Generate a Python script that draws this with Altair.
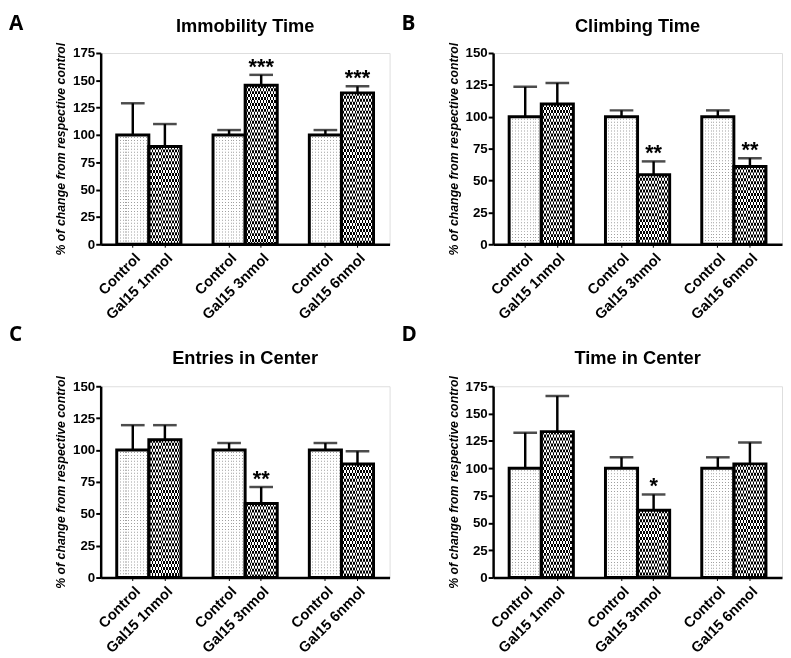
import altair as alt
import pandas as pd

# ---------------- data ----------------
keys = ["C1", "G1", "C3", "G3", "C6", "G6"]
labels = ["Control", "Gal15 1nmol", "Control", "Gal15 3nmol", "Control", "Gal15 6nmol"]
kinds = ["control", "gal", "control", "gal", "control", "gal"]
slot_domain = ["C1", "G1", "S1", "C3", "G3", "S2", "C6", "G6"]

panel_letters = ["A", "B", "C", "D"]
panel_titles = ["Immobility Time", "Climbing Time", "Entries in Center", "Time in Center"]
panel_ymax = [175, 150, 150, 175]

immobility_mean = [100, 89.5, 100, 145.5, 100, 138.5]
immobility_upper = [129, 110, 104.5, 155, 104.5, 144.5]
immobility_stars = ["", "", "", "***", "", "***"]

climbing_mean = [100, 110, 100, 54.5, 100, 61]
climbing_upper = [123.5, 126.5, 105, 65, 105, 67.5]
climbing_stars = ["", "", "", "**", "", "**"]

entries_mean = [100, 108, 100, 58, 100, 89]
entries_upper = [119.5, 119.5, 105.5, 71, 105.5, 99]
entries_stars = ["", "", "", "**", "", ""]

timecenter_mean = [100, 133.5, 100, 61.5, 100, 104]
timecenter_upper = [132.5, 166, 110, 76, 110, 123.5]
timecenter_stars = ["", "", "", "*", "", ""]

means = [immobility_mean, climbing_mean, entries_mean, timecenter_mean]
uppers = [immobility_upper, climbing_upper, entries_upper, timecenter_upper]
stars = [immobility_stars, climbing_stars, entries_stars, timecenter_stars]

# ---------------- styling ----------------
FONT = "Liberation Sans"
W, H = 293, 194


def stripe_gradient(n, dark, light, dark_frac):
    stops = []
    for i in range(n):
        a = i / n
        b = (i + dark_frac) / n
        c = (i + 1) / n
        stops += [
            {"offset": a, "color": dark},
            {"offset": b, "color": dark},
            {"offset": b, "color": light},
            {"offset": c, "color": light},
        ]
    return {"gradient": "linear", "x1": 0, "y1": 0, "x2": 1, "y2": 0, "stops": stops}


checker_grad = stripe_gradient(11, "#000000", "#ffffff", 0.5)
dots_grad = stripe_gradient(11, "#a0a0a0", "#ffffff", 0.35)

label_expr = "[" + ",".join("'%s'" % l for l in labels) + "][indexof([" + ",".join(
    "'%s'" % k for k in keys) + "], datum.value)]"


def make_panel(idx, top_row):
    df = pd.DataFrame({
        "key": keys,
        "label": labels,
        "kind": kinds,
        "mean": means[idx],
        "upper": uppers[idx],
        "star": stars[idx],
    })
    ymax = panel_ymax[idx]
    yscale = alt.Scale(domain=[0, ymax], nice=False)
    yaxis = alt.Axis(
        values=list(range(0, ymax + 1, 25)), grid=False, labelOverlap=False,
        title="% of change from respective control",
        titleFont=FONT, titleFontWeight="bold", titleFontStyle="italic", titleFontSize=12.5,
        titleColor="black", titlePadding=5,
        labelFont=FONT, labelFontWeight="bold", labelFontSize=13.5, labelColor="black",
        domainColor="black", domainWidth=2.5, tickColor="black", tickSize=5, tickWidth=2,
        labelPadding=1,
    )

    def ych(field):
        return alt.Y(field, type="quantitative", scale=yscale, axis=yaxis)

    x = alt.X(
        "key:N",
        scale=alt.Scale(domain=slot_domain, paddingInner=0, paddingOuter=0.5),
        axis=alt.Axis(
            values=keys, labelExpr=label_expr, labelAngle=-45, title=None,
            labelFont=FONT, labelFontWeight="bold", labelFontSize=14.8, labelColor="black",
            domainColor="black", domainWidth=2.5, tickColor="black", tickSize=3, tickWidth=1,
            labelPadding=3,
        ),
    )
    base = alt.Chart(df).encode(x=x)

    gal_fill = base.transform_filter("datum.kind == 'gal'").mark_bar(
        fill=checker_grad, strokeWidth=0).encode(y=ych("mean"))
    ctl_fill = base.transform_filter("datum.kind == 'control'").mark_bar(
        fill=dots_grad, strokeWidth=0).encode(y=ych("mean"))
    gal_rows = base.transform_filter("datum.kind == 'gal'").mark_rule(
        color="white", blend="difference", strokeWidth=30, strokeDash=[3, 3]
    ).encode(y=ych("mean"), y2=alt.datum(0))
    ctl_rows = base.transform_filter("datum.kind == 'control'").mark_rule(
        color="white", strokeWidth=30, strokeDash=[2, 1]
    ).encode(y=ych("mean"), y2=alt.datum(0))
    stem = base.mark_rule(color="black", strokeWidth=2.5).encode(y=ych("mean"), y2="upper:Q")
    cap = base.mark_tick(color="black", size=24, thickness=2.5).encode(y=ych("upper"))
    outline = base.mark_bar(fillOpacity=0, stroke="black", strokeWidth=3).encode(y=ych("mean"))
    star_txt = base.mark_text(
        font=FONT, fontWeight="bold", fontSize=22, baseline="bottom", dy=4, color="black"
    ).encode(y=ych("upper"), text="star:N")
    letter = alt.Chart(pd.DataFrame({"t": [panel_letters[idx]]})).mark_text(
        font="Open Sans", fontWeight="bold", fontSize=21, align="left", baseline="middle",
        color="black",
    ).encode(text="t:N", x=alt.value(-93), y=alt.value(-29 if top_row else -52))
    title = alt.Chart(pd.DataFrame({"t": [panel_titles[idx]]})).mark_text(
        font=FONT, fontWeight="bold", fontSize=18.5, align="center", baseline="middle",
        color="black",
    ).encode(text="t:N", x=alt.value(W / 2), y=alt.value(-27 if top_row else -29))

    return alt.layer(ctl_fill, gal_fill, ctl_rows, gal_rows, stem, cap, outline, star_txt,
                     letter, title).properties(width=W, height=H)


top = alt.hconcat(make_panel(0, True), make_panel(1, True), spacing=10)
bottom = alt.hconcat(make_panel(2, False), make_panel(3, False), spacing=10)
chart = alt.vconcat(top, bottom, spacing=0).configure_view(stroke=None).configure(
    background="white", padding=0)

chart.save("out.html", embed_options={"renderer": "svg", "actions": False})
